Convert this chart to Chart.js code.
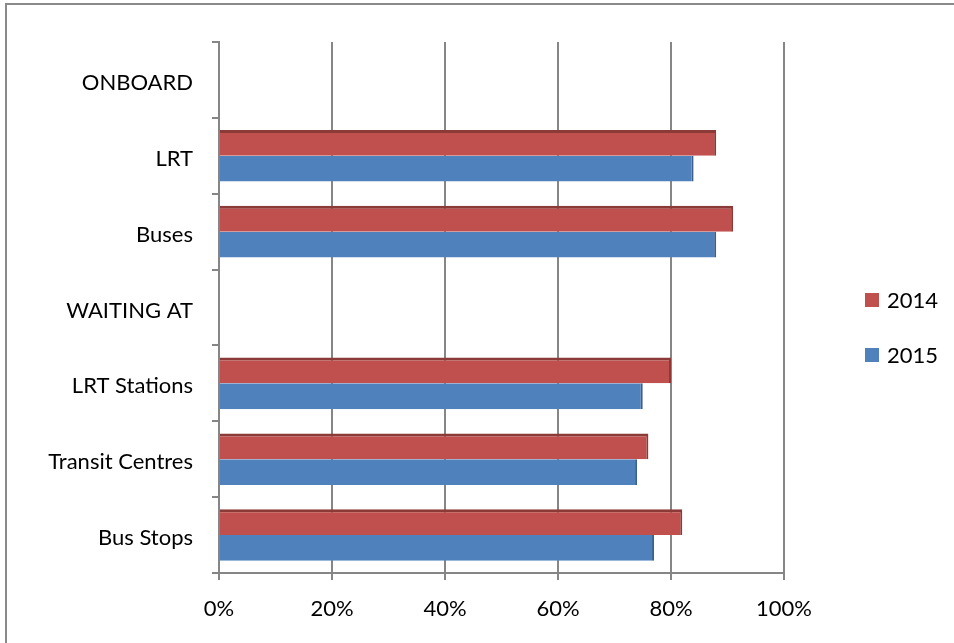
<!DOCTYPE html>
<html>
<head>
<meta charset="utf-8">
<script src="https://cdn.jsdelivr.net/npm/chart.js@4/dist/chart.umd.min.js"></script>
<style>
  html, body { margin: 0; padding: 0; background: #fff; }
  #wrap { position: relative; width: 954px; height: 643px; overflow: hidden; }
  #frame { position: absolute; left: 5px; top: 3px; width: 1000px; height: 700px;
           border-left: 2px solid #8a8a8a; border-top: 2px solid #8a8a8a; pointer-events: none; }
  #legend { position: absolute; left: 865px; top: 286px; font-family: Lato, "Open Sans", sans-serif;
            font-size: 22px; color: #000; }
  #legend div { height: 55px; display: flex; align-items: flex-start; }
  #legend span.box { display: inline-block; width: 14px; height: 14px; margin-top: 7px; margin-right: 8px; }
</style>
</head>
<body>
<div id="wrap">
  <canvas id="myChart" width="954" height="643"></canvas>
  <div id="frame"></div>
  <div id="legend"></div>
</div>
<script>
// dati
var categorie = ['ONBOARD', 'LRT', 'Buses', 'WAITING AT', 'LRT Stations', 'Transit Centres', 'Bus Stops'];
var valori2014 = [null, 88, 91, null, 80, 76, 82];
var valori2015 = [null, 84, 88, null, 75, 74, 77];
var tickX = [0, 20, 40, 60, 80, 100];

var grigio = '#868686';
var font = { family: 'Lato, "Open Sans", sans-serif', size: 22 };

var ctx = document.getElementById('myChart').getContext('2d');

var myChart = new Chart(ctx, {
    type: 'bar',
    data: {
        labels: categorie,
        datasets: [{
            label: '2014',
            data: valori2014,
            backgroundColor: '#C0504D',
            borderColor: '#8C3A38',
            borderWidth: { top: 3, right: 2, bottom: 0, left: 0 },
            borderSkipped: false
        }, {
            label: '2015',
            data: valori2015,
            backgroundColor: '#4F81BD',
            borderColor: '#3A5F8E',
            borderWidth: { top: 0, right: 2, bottom: 0, left: 0 },
            borderSkipped: false
        }]
    },
    options: {
        indexAxis: 'y',
        responsive: false,
        animation: false,
        layout: { padding: { top: 42, left: 0, right: 170, bottom: 0 } },
        datasets: {
            bar: { categoryPercentage: 0.68, barPercentage: 1.0 }
        },
        plugins: {
            legend: { display: false },
            tooltip: { enabled: false }
        },
        scales: {
            x: {
                min: 0,
                max: 100,
                afterBuildTicks: function(scale) {
                    scale.ticks = tickX.map(function(v) { return { value: v }; });
                },
                afterFit: function(scale) { scale.height = 70; },
                ticks: {
                    color: '#000',
                    font: font,
                    padding: 16,
                    callback: function(v) { return v + '%'; }
                },
                grid: { color: grigio, lineWidth: 2, tickLength: 7 },
                border: { color: grigio, width: 2 }
            },
            y: {
                afterFit: function(scale) { scale.width = 219; },
                ticks: { color: '#000', font: font, padding: 19, labelOffset: 3 },
                grid: { color: grigio, lineWidth: 2, tickLength: 7, drawOnChartArea: false, offset: true },
                border: { color: grigio, width: 2 }
            }
        }
    }
});

// legenda in html, presa dai dataset
var leg = document.getElementById('legend');
myChart.data.datasets.forEach(function(ds) {
    var riga = document.createElement('div');
    riga.innerHTML = '<span class="box" style="background:' + ds.backgroundColor + '"></span>' + ds.label;
    leg.appendChild(riga);
});
</script>
</body>
</html>
